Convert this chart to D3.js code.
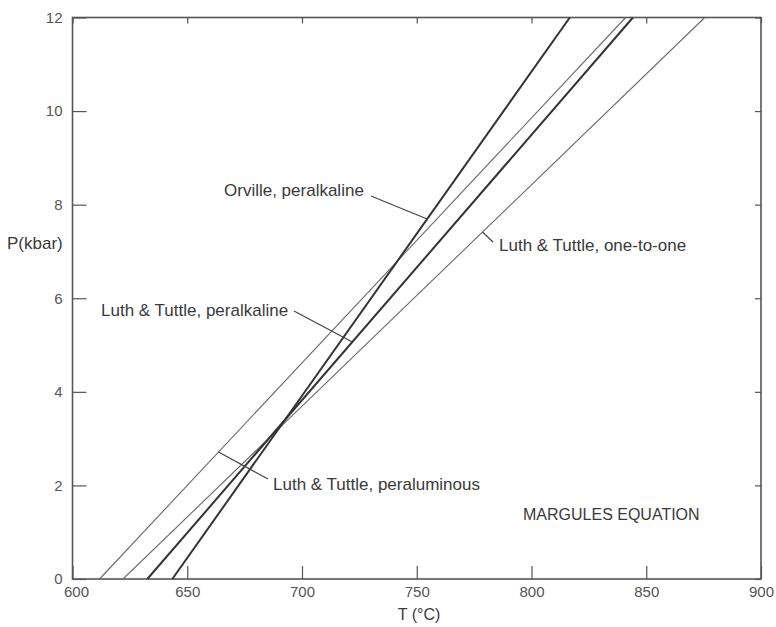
<!DOCTYPE html>
<html>
<head>
<meta charset="utf-8">
<script src="https://cdn.jsdelivr.net/npm/d3@7"></script>
<style>
  html, body { margin: 0; padding: 0; background: #fff; }
  svg { display: block; }
  text { font-family: "Liberation Sans", Arial, sans-serif; }
</style>
</head>
<body>
<svg id="chart" width="776" height="627"></svg>
<script>
// ---- data ----
const seriesNames = [
  "Luth & Tuttle, peraluminous",
  "Luth & Tuttle, one-to-one",
  "Luth & Tuttle, peralkaline",
  "Orville, peralkaline"
];
const pressures = [0, 12];                 // P (kbar)
const tPeraluminous  = [611.8, 841.0];     // T (°C) at P = 0, 12
const tOneToOne      = [622.0, 875.5];
const tLTPeralkaline = [632.6, 844.2];
const tOrville       = [643.5, 816.7];
const xTicks = [600, 650, 700, 750, 800, 850, 900];
const yTicks = [0, 2, 4, 6, 8, 10, 12];

// ---- layout ----
const svg = d3.select("#chart");
const x = d3.scaleLinear().domain([600, 900]).range([72.5, 761]);
const y = d3.scaleLinear().domain([0, 12]).range([579, 17.5]);

const ink = "#3a3a3a";
const seriesT = [tPeraluminous, tOneToOne, tLTPeralkaline, tOrville];
const seriesW = [1.1, 1.1, 2.0, 2.0];
const seriesC = ["#6a6a6a", "#6a6a6a", "#333", "#333"];

const series = seriesNames.map((name, i) => ({
  name,
  pts: pressures.map((p, j) => ({ P: p, T: seriesT[i][j] })),
  w: seriesW[i], c: seriesC[i]
}));

// axes (ticks pointing inward)
const gB = svg.append("g").attr("transform", `translate(0,${y(0)})`)
  .call(d3.axisBottom(x).tickValues(xTicks).tickSizeInner(-13).tickSizeOuter(0).tickPadding(7).tickFormat(d3.format("d")));
const gL = svg.append("g").attr("transform", `translate(${x(600)},0)`)
  .call(d3.axisLeft(y).tickValues(yTicks).tickSizeInner(-14).tickSizeOuter(0).tickPadding(10).tickFormat(d3.format("d")));
const gT = svg.append("g").attr("transform", `translate(0,${y(12)})`)
  .call(d3.axisTop(x).tickValues(xTicks).tickSizeInner(-6).tickSizeOuter(0).tickFormat(""));
const gR = svg.append("g").attr("transform", `translate(${x(900)},0)`)
  .call(d3.axisRight(y).tickValues(yTicks).tickSizeInner(-6).tickSizeOuter(0).tickFormat(""));

[gB, gL, gT, gR].forEach(g => {
  g.select(".domain").remove();
  g.selectAll(".tick line").attr("stroke", "#555").attr("stroke-width", 1.2);
  g.selectAll(".tick text").attr("fill", "#555").style("font-size", "15px")
    .style("font-family", '"Liberation Sans", Arial, sans-serif');
});
// first x label sits slightly right of the corner, as in the reference
gB.selectAll(".tick text").filter(d => d === 600).attr("dx", 3.5);

// frame
svg.append("rect")
  .attr("x", x(600)).attr("y", y(12))
  .attr("width", x(900) - x(600)).attr("height", y(0) - y(12))
  .attr("fill", "none").attr("stroke", "#555").attr("stroke-width", 1.6);

// series lines
const line = d3.line().x(d => x(d.T)).y(d => y(d.P));
svg.append("g").selectAll("path").data(series).join("path")
  .attr("d", d => line(d.pts))
  .attr("fill", "none")
  .attr("stroke", d => d.c)
  .attr("stroke-width", d => d.w);

// annotations: label text position (px) + pointer from label to line at given pressure
function tAt(s, P) {
  const a = s.pts[0], b = s.pts[1];
  return a.T + (b.T - a.T) * (P - a.P) / (b.P - a.P);
}
const annotations = [
  { s: 3, tx: 224, ty: 196, from: [371, 196], P: y.invert(219) },
  { s: 1, tx: 499, ty: 251, from: [493, 242], P: y.invert(232) },
  { s: 2, tx: 101, ty: 316, from: [294, 311], P: y.invert(342) },
  { s: 0, tx: 273, ty: 490, from: [268, 479], P: y.invert(452) }
];
annotations.forEach(a => {
  const s = series[a.s];
  const ex = x(tAt(s, a.P)), ey = y(a.P);
  svg.append("line")
    .attr("x1", a.from[0]).attr("y1", a.from[1])
    .attr("x2", ex).attr("y2", ey)
    .attr("stroke", "#444").attr("stroke-width", 1.2);
  svg.append("text")
    .attr("x", a.tx).attr("y", a.ty)
    .attr("fill", ink).style("font-size", "17px")
    .text(s.name);
});

// axis titles
svg.append("text").attr("x", 7).attr("y", 249)
  .attr("fill", ink).style("font-size", "17px").text("P(kbar)");
svg.append("text").attr("x", 419).attr("y", 620).attr("text-anchor", "middle")
  .attr("fill", ink).style("font-size", "16px").text("T (°C)");

// panel title
svg.append("text").attr("x", 523).attr("y", 520)
  .attr("fill", ink).style("font-size", "16px").text("MARGULES EQUATION");
</script>
</body>
</html>
